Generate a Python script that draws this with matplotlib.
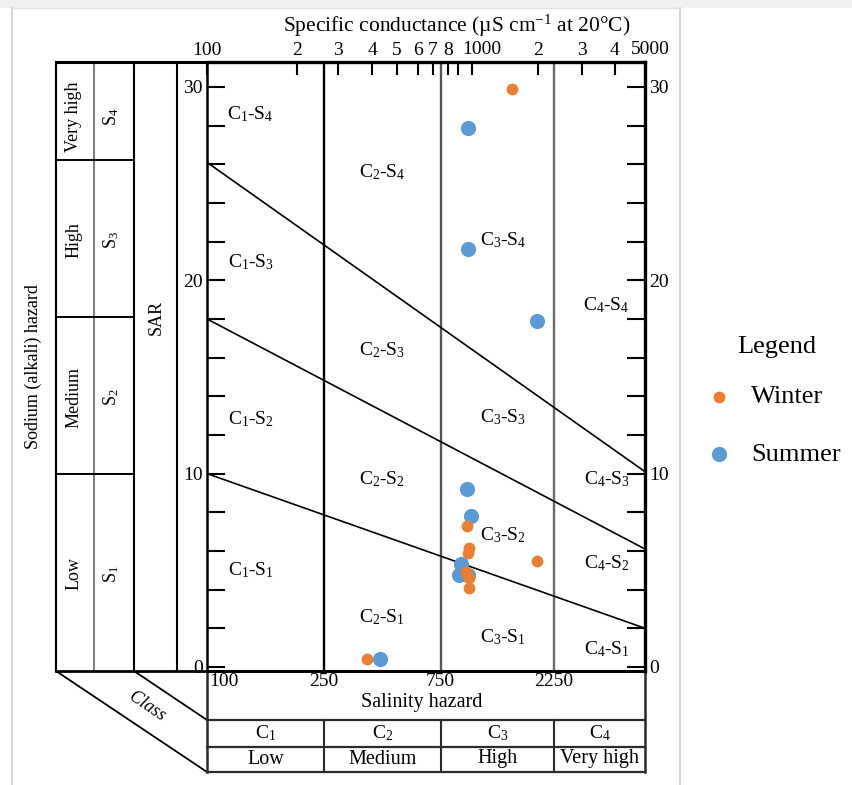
import numpy as np
import matplotlib
matplotlib.use('Agg')
import matplotlib.pyplot as plt
from matplotlib.ticker import NullLocator

plt.rcParams['font.family'] = 'Liberation Serif'
plt.rcParams['mathtext.fontset'] = 'custom'
plt.rcParams['mathtext.rm'] = 'Liberation Serif'
plt.rcParams['mathtext.it'] = 'Liberation Serif:italic'
plt.rcParams['mathtext.bf'] = 'Liberation Serif:bold'

#########################
##      data           ##
#########################

# specific conductance (uS/cm) and SAR
winter_ec = [1520, 960, 975, 970, 955, 975, 975, 1980, 383]
winter_sar = [29.9, 7.3, 6.15, 5.9, 4.9, 4.6, 4.1, 5.5, 0.4]
summer_ec = [970, 970, 1980, 960, 990, 920, 905, 970, 430]
summer_sar = [27.9, 21.6, 17.9, 9.2, 7.8, 5.33, 4.76, 4.76, 0.4]

# salinity class limits and sodium hazard lines (SAR at 100 and at 5000)
class_bounds = [250, 750, 2250]
s_left = [10, 18, 26.1]
s_right = [2, 6.1, 10.1]

top_ticks = [100, 200, 300, 400, 500, 600, 700, 800, 900, 1000, 2000, 3000, 4000, 5000]
top_labels = ['100', '2', '3', '4', '5', '6', '7', '8', '', '', '2', '3', '4', '']

c_names = ['C$_1$', 'C$_2$', 'C$_3$', 'C$_4$']
hazard_names = ['Low', 'Medium', 'High', 'Very high']
s_names = ['S$_1$', 'S$_2$', 'S$_3$', 'S$_4$']

# zone label spots (conductance per C column, SAR per S row)
zone_x = [140, 437, 1385, 3720]
zone_sar = [[5.0, 12.8, 20.95, 28.6],
            [2.6, 9.7, 16.4, 25.6],
            [1.55, 6.8, 12.9, 22.1],
            [0.9, 5.35, 9.7, 18.7]]

#########################
##   x scale of chart  ##
#########################
# the printed diagram is not a clean log axis, so follow its tick spacing
scale_ec = [100, 200, 250, 300, 400, 500, 600, 700, 800, 900, 1000, 2000, 2250, 3000, 4000, 5000]
scale_px = [207, 297, 324, 338, 372, 397, 418, 433, 448, 458, 472, 538, 554, 582, 615, 645]
log_ec = np.log10(scale_ec)


def fwd(x):
    x = np.clip(np.asarray(x, dtype=float), 1e-6, None)
    return np.interp(np.log10(x), log_ec, scale_px)


def inv(p):
    return 10 ** np.interp(np.asarray(p, dtype=float), scale_px, log_ec)


W, H = 853, 785
fig = plt.figure(figsize=(8.53, 7.85), dpi=100)

bg = fig.add_axes([0, 0, 1, 1])
bg.set_xlim(0, W)
bg.set_ylim(H, 0)
bg.axis('off')

ax = fig.add_axes([207 / W, 1 - 671 / H, (645 - 207) / W, (671 - 62) / H])
ax.set_facecolor('none')

######################### page frame
bg.add_patch(plt.Rectangle((0, 0), W, 8, fc='#f0f0f0', ec='none'))
bg.plot([12, 12], [8, H], color='#d6d6d6', lw=1.5)
bg.plot([680, 680], [8, H], color='#d6d6d6', lw=1.5)
bg.plot([12, 680], [8, 8], color='#e0e0e0', lw=1)

######################### left block
k = 'black'
for x, c in [(56, k), (94, '#7f7f7f'), (134, k), (177, k)]:
    bg.plot([x, x], [62, 671], color=c, lw=1.5)
bg.plot([56, 207], [62, 62], color=k, lw=2.2)
bg.plot([56, 207], [671, 671], color=k, lw=2.0)
for y in [160, 317, 474]:
    bg.plot([56, 134], [y, y], color=k, lw=1.4)

bg.text(33, 367, 'Sodium (alkali) hazard', rotation=90, ha='center', va='center', fontsize=13)
for name, sn, yc in zip(hazard_names, s_names, [574, 397, 240, 117]):
    bg.text(74, yc, name, rotation=90, ha='center', va='center', fontsize=13)
    bg.text(111, yc, sn, rotation=90, ha='center', va='center', fontsize=13)
bg.text(156, 317, 'SAR', rotation=90, ha='center', va='center', fontsize=13)

######################### class wedge + bottom box
bg.plot([56, 207], [671, 772], color=k, lw=1.3)
bg.plot([134, 207], [671, 720], color=k, lw=1.3)
bg.text(147, 706, 'Class', rotation=-34, ha='center', va='center', fontsize=13, style='italic')

bc = '#2b2b2b'
bg.plot([207, 207], [671, 772], color=bc, lw=1.8)
bg.plot([645, 645], [671, 772], color=bc, lw=1.8)
for y in [720, 747, 772]:
    bg.plot([207, 645], [y, y], color=bc, lw=1.6)
col_edges = [207] + [float(fwd(b)) for b in class_bounds] + [645]
for xb in col_edges[1:-1]:
    bg.plot([xb, xb], [720, 772], color=bc, lw=1.5)

bg.text(209, 682, '100', ha='left', va='center', fontsize=14)
for b in class_bounds:
    bg.text(float(fwd(b)), 682, str(b), ha='center', va='center', fontsize=14)
bg.text(422, 702, 'Salinity hazard', ha='center', va='center', fontsize=14.5)
for i in range(4):
    xc = (col_edges[i] + col_edges[i + 1]) / 2
    bg.text(xc, 733, c_names[i], ha='center', va='center', fontsize=14)
    bg.text(xc, 759, hazard_names[i], ha='center', va='center', fontsize=14.5)

bg.text(457, 26, 'Specific conductance (\u00b5S cm$^{-1}$ at 20\u00b0C)', ha='center', va='center', fontsize=15.5)
# the two round labels sit off their ticks in the printed chart
bg.text(482, 50, '1000', ha='center', va='center', fontsize=14)
bg.text(650, 50, '5000', ha='center', va='center', fontsize=14)

######################### main diagram
ax.set_xscale('function', functions=(fwd, inv))

for b, c in zip(class_bounds, ['black', '#555555', '#6a6a6a']):
    ax.axvline(b, color=c, lw=1.7, zorder=1)
for l, r in zip(s_left, s_right):
    ax.plot([100, 5000], [l, r], color='black', lw=1.2, zorder=1)

for i in range(4):
    for j in range(4):
        ax.text(zone_x[i], zone_sar[i][j], 'C$_%d$-S$_%d$' % (i + 1, j + 1),
                ha='center', va='center', fontsize=14)

hs = ax.scatter(summer_ec, summer_sar, s=120, color='#5B9BD5', zorder=3, clip_on=False, linewidths=0)
hw = ax.scatter(winter_ec, winter_sar, s=72, color='#ED7D31', zorder=4, clip_on=False, linewidths=0)

ax.set_xlim(100, 5000)
ax.set_ylim(-0.21, 31.29)

ax.xaxis.set_ticks_position('top')
ax.set_xticks(top_ticks)
ax.set_xticklabels(top_labels)
ax.xaxis.set_minor_locator(NullLocator())
ax.tick_params(axis='x', which='major', direction='in', length=9, width=1.5, pad=2,
               labelsize=14, top=True, bottom=False, labeltop=True, labelbottom=False)

ax.set_yticks([0, 10, 20, 30])
ax.set_yticks(np.arange(2, 31, 2), minor=True)
ax.tick_params(axis='y', which='both', direction='in', length=13, width=1.5, pad=3,
               labelsize=14, left=True, right=True, labelleft=True, labelright=True)

for side, lw in [('top', 2.4), ('right', 2.4), ('left', 1.8), ('bottom', 2.2)]:
    ax.spines[side].set_linewidth(lw)
    ax.spines[side].set_color('black')

bg.text(777, 347, 'Legend', ha='center', va='center', fontsize=19)
fig.legend([hw, hs], ['Winter', 'Summer'], loc='upper left',
           bbox_to_anchor=(706 / W, 1 - 385 / H), frameon=False, fontsize=19,
           handlelength=1.0, handletextpad=0.7, labelspacing=1.3,
           borderpad=0, borderaxespad=0)

plt.savefig('out.png', dpi=100)
